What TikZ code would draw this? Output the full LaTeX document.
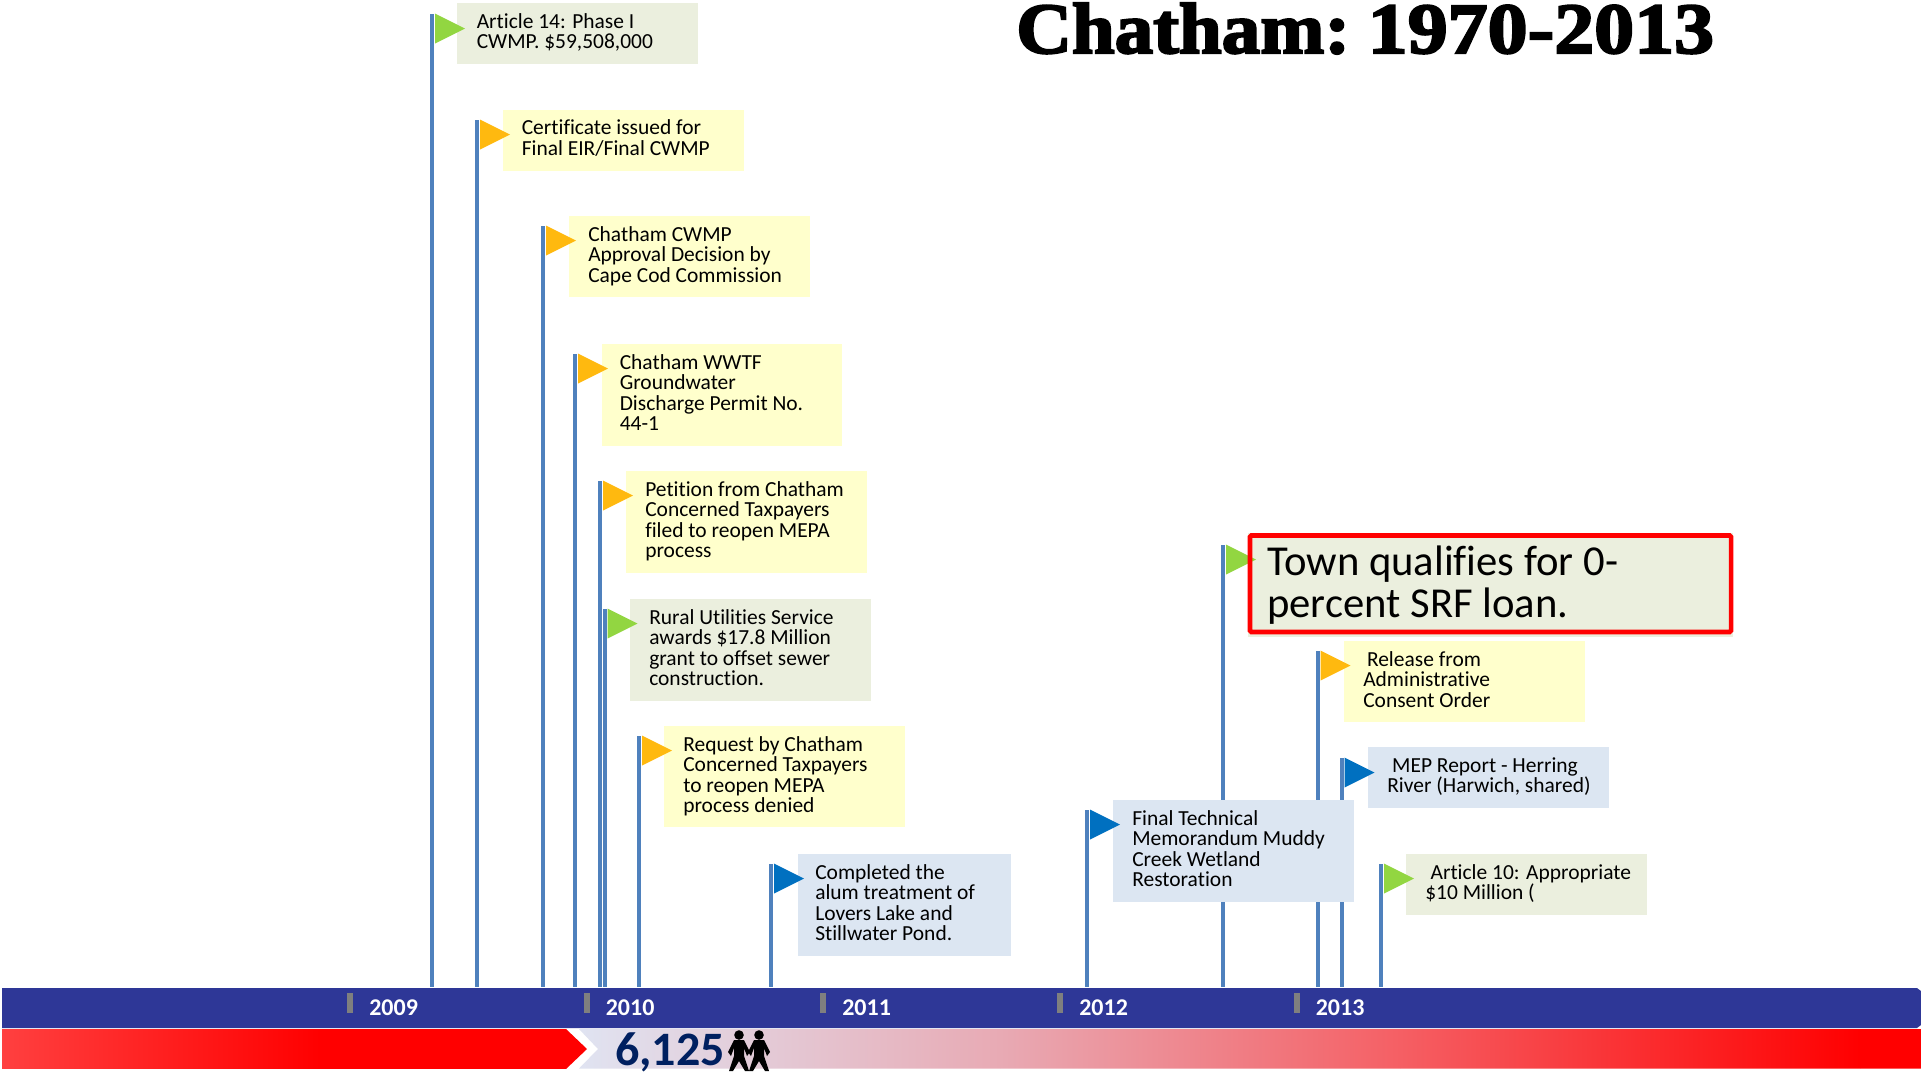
\documentclass[tikz,border=0pt]{standalone}
\usepackage{fontspec}
\setmainfont[Ligatures=NoCommon]{Carlito}
\newfontfamily\titlefont[BoldFeatures={FakeBold=3,FakeStretch=1.07}]{Liberation Serif}
\newfontfamily\titledigits[BoldFeatures={FakeBold=3,FakeStretch=1.11}]{Liberation Serif}
\usetikzlibrary{shadings}
\tikzset{x=0.75pt,y=-0.75pt,
 pole/.style={draw=none,fill=poleblue},
 tickmark/.style={draw=none,fill=tickgrey},
 yearlab/.style={anchor=west,inner sep=0,text=white,font=\fontsize{18}{18}\selectfont\bfseries},
 evt/.style={anchor=north west,inner sep=0,align=left,text=black,font=\fontsize{16.1}{15.4}\selectfont},
}
\definecolor{poleblue}{HTML}{4F81BD}
\definecolor{tickgrey}{HTML}{7F7F7F}
\definecolor{barblue}{HTML}{2E3797}
\definecolor{gbox}{HTML}{EBEFDE}
\definecolor{ybox}{HTML}{FFFFCC}
\definecolor{bbox}{HTML}{DCE6F2}
\definecolor{gflag}{HTML}{92D641}
\definecolor{yflag}{HTML}{FFB90F}
\definecolor{bflag}{HTML}{0070C0}
\newcommand{\evtitem}[9]{%
 % name, pole x, pole top, flag colour, box colour, box x0, box y0, box x1, box y1
 \fill[#5] (#6,#7) rectangle (#8,#9);
 \fill[poleblue] (#2-2,#3) rectangle (#2+2,987);
 \fill[#4] (#2+3,#3-0.5) -- (#2+33,#3+14.5) -- (#2+3,#3+29.5) -- cycle;
}
\begin{document}
\begin{tikzpicture}
\useasboundingbox (0,0) rectangle (1921,1072);
\fill[white] (0,0) rectangle (1921,1072);
\evtitem{a}{432}{14}{gflag}{gbox}{457}{3}{698}{64}
\evtitem{b}{477}{120}{yflag}{ybox}{503}{110}{744}{171}
\evtitem{c}{543}{226}{yflag}{ybox}{569}{216}{810}{297}
\evtitem{d}{575}{354}{yflag}{ybox}{602}{344}{842}{446}
\evtitem{e}{600}{481}{yflag}{ybox}{626}{471}{867}{573}
\evtitem{f}{604.5}{609}{gflag}{gbox}{630}{599}{871}{701}
\evtitem{g}{639}{736}{yflag}{ybox}{664}{726}{905}{827}
\evtitem{h}{771}{864}{bflag}{bbox}{798}{854}{1011}{956}
\evtitem{j}{1223}{545}{gflag}{gbox}{1248}{533}{1733}{637}
\evtitem{k}{1317.5}{651}{yflag}{ybox}{1344}{641}{1585}{722}
\evtitem{l}{1341.5}{758}{bflag}{bbox}{1368}{747}{1609}{808}
\evtitem{i}{1087}{810}{bflag}{bbox}{1113}{800}{1354}{902}
\evtitem{m}{1381}{864}{gflag}{gbox}{1406}{854}{1647}{915}
\draw[red,line width=3.4pt,rounded corners=1pt] (1250,535.5) rectangle (1731,632);
\node[evt] (ta) at (476.5,13) {Article 14: Phase I\\CWMP. \$59,508,000};
\node[evt] (tb) at (521.5,119.5) {Certificate issued for\\Final EIR/Final CWMP};
\node[evt] (tc) at (588,226) {Chatham CWMP\\Approval Decision by\\Cape Cod Commission};
\node[evt] (td) at (619.5,354) {Chatham WWTF\\Groundwater\\Discharge Permit No.\\44-1};
\node[evt] (te) at (645,481) {Petition from Chatham\\Concerned Taxpayers\\filed to reopen MEPA\\process};
\node[evt] (tf) at (649,609) {Rural Utilities Service\\awards \$17.8 Million\\grant to offset sewer\\construction.};
\node[evt] (tg) at (683,736) {Request by Chatham\\Concerned Taxpayers\\to reopen MEPA\\process denied};
\node[evt] (th) at (815,864) {Completed the\\alum treatment of\\Lovers Lake and\\Stillwater Pond.};
\node[evt] (ti) at (1132,810) {Final Technical\\Memorandum Muddy\\Creek Wetland\\Restoration};
\node[evt,font=\fontsize{32}{31.3}\selectfont] (tj) at (1267,546) {Town qualifies for 0-\\percent SRF loan.};
\node[evt] (tk) at (1363,651) {\hspace{2.8pt}Release from\\Administrative\\Consent Order};
\node[evt] (tl) at (1387,757) {\hspace{3.7pt}MEP Report - Herring\\River (Harwich, shared)};
\node[evt] (tm) at (1425,864) {\hspace{4pt}Article 10: Appropriate\\\$10 Million (};
\node[anchor=base west,inner sep=0,font=\bfseries\fontsize{54}{54}\selectfont] (title) at (1016,53) {\titlefont Chatham: \hspace{-6pt}\titledigits 1970-2013};
% timeline
\fill[barblue] (2,988) -- (1917,988) -- (1921,991) -- (1921,1025) -- (1917,1028) -- (2,1028) -- cycle;
\foreach \tx in {350,587,823,1060,1297} \fill[tickgrey] (\tx-3,993) rectangle (\tx+3,1013);
\node[yearlab] (y09) at (369,1008) {2009};
\node[yearlab] (y10) at (605.5,1008) {2010};
\node[yearlab] (y11) at (842,1008) {2011};
\node[yearlab] (y12) at (1079,1008) {2012};
\node[yearlab] (y13) at (1315.5,1008) {2013};
\begin{scope}
\clip (2,1029) rectangle (590,1068.5);
\shade[left color=red!75!white,right color=red] (2,1029) rectangle (320,1068.5);
\fill[red] (319,1029) -- (566,1029) -- (587,1049) -- (566,1069) -- (319,1069) -- cycle;
\end{scope}
\begin{scope}
\clip (579,1029) -- (1921,1029) -- (1921,1068.5) -- (579,1068.5) -- (598,1049) -- cycle;
\shade[left color={rgb,255:red,224;green,228;blue,242},right color={rgb,255:red,232;green,170;blue,180}] (575,1029) rectangle (1000,1069);
\shade[left color={rgb,255:red,232;green,170;blue,180},right color={rgb,255:red,245;green,95;blue,100}] (1000,1029) rectangle (1400,1069);
\shade[left color={rgb,255:red,245;green,95;blue,100},right color=red] (1400,1029) rectangle (1860,1069);
\fill[red] (1860,1029) rectangle (1921,1069);
\end{scope}
\node[anchor=base west,inner sep=0,text={rgb,255:red,0;green,32;blue,96},font=\fontsize{36}{36}\selectfont\bfseries] (cnt) at (615,1065) {6,125};
\foreach \px in {739,759}{
 \fill[black] (\px,1035) circle (4.8);
 \fill[black] (\px-5,1040) -- (\px+5,1040) -- (\px+11,1052) -- (\px+8,1056) -- (\px+5,1048) -- (\px+5,1056) -- (\px+10,1071) -- (\px+6,1071) -- (\px,1061) -- (\px-6,1071) -- (\px-10,1071) -- (\px-5,1056) -- (\px-5,1048) -- (\px-8,1056) -- (\px-11,1052) -- cycle;
}
\end{tikzpicture}
\end{document}
